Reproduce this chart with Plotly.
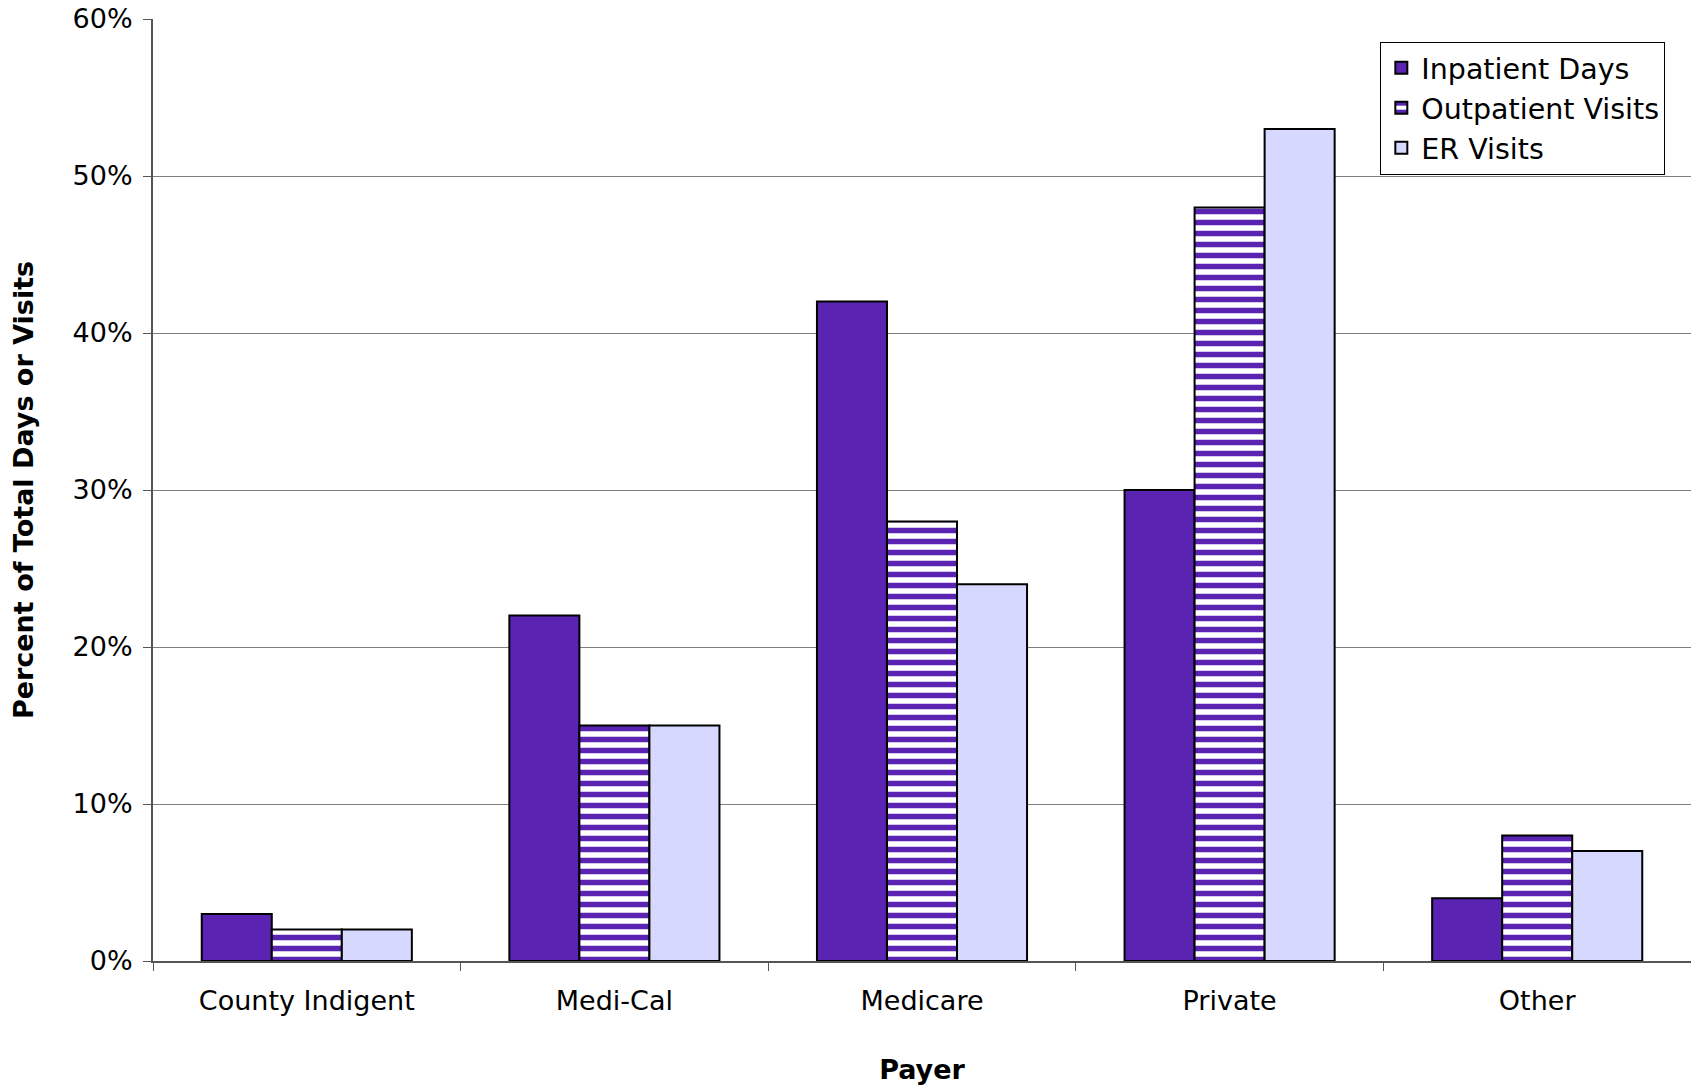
import plotly.graph_objects as go

categories = ["County Indigent", "Medi-Cal", "Medicare", "Private", "Other"]
inpatient_days = [3, 22, 42, 30, 4]
outpatient_visits = [2, 15, 28, 48, 8]
er_visits = [2, 15, 24, 53, 7]
y_ticks = [0, 10, 20, 30, 40, 50, 60]
y_tick_labels = ["0%", "10%", "20%", "30%", "40%", "50%", "60%"]

PURPLE = "#5A23B2"
LAVENDER = "#D6D8FF"
FONT = "DejaVu Sans"

fig = go.Figure()
fig.add_trace(go.Bar(
    name="Inpatient Days", x=categories, y=inpatient_days,
    marker=dict(color=PURPLE, line=dict(color="black", width=2)),
))
fig.add_trace(go.Bar(
    name="Outpatient Visits", x=categories, y=outpatient_visits,
    marker=dict(color="white", line=dict(color="black", width=2),
                pattern=dict(shape="-", fgcolor=PURPLE, bgcolor="white",
                             size=11, solidity=0.5, fillmode="replace")),
))
fig.add_trace(go.Bar(
    name="ER Visits", x=categories, y=er_visits,
    marker=dict(color=LAVENDER, line=dict(color="black", width=2)),
))

fig.update_layout(
    width=1691, height=1085,
    margin=dict(l=153, r=0, t=19, b=124, autoexpand=False),
    paper_bgcolor="white", plot_bgcolor="white",
    barmode="group", bargap=0.317, bargroupgap=0,
    font=dict(family=FONT, size=27, color="black"),
    legend=dict(x=0.798, y=0.976, xanchor="left", yanchor="top",
                bordercolor="black", borderwidth=1, bgcolor="white",
                font=dict(family=FONT, size=28.5), tracegroupgap=0,
                itemsizing="constant"),
    xaxis=dict(
        title=dict(text="<b>Payer</b>", font=dict(family=FONT, size=27), standoff=45),
        showline=True, linecolor="#555555", linewidth=2,
        ticks="outside", tickson="boundaries", ticklen=8, tickcolor="#555555",
        tickfont=dict(family=FONT, size=27), ticklabelstandoff=15,
        showgrid=False, automargin=False,
    ),
    yaxis=dict(
        title=dict(text="<b>Percent of Total Days or Visits</b>", font=dict(family=FONT, size=27), standoff=31),
        range=[0, 60], tickvals=y_ticks, ticktext=y_tick_labels,
        showline=True, linecolor="#555555", linewidth=2,
        ticks="outside", ticklen=8, tickcolor="#555555",
        showgrid=True, gridcolor="#808080", gridwidth=1,
        tickfont=dict(family=FONT, size=27), ticklabelstandoff=5,
        ticklabeloverflow="allow",
        zeroline=False, automargin=False,
    ),
)

fig.write_html("out.html",
               config={"displayModeBar": False},
               post_script="document.body.style.margin='0';document.body.style.overflow='hidden';")
